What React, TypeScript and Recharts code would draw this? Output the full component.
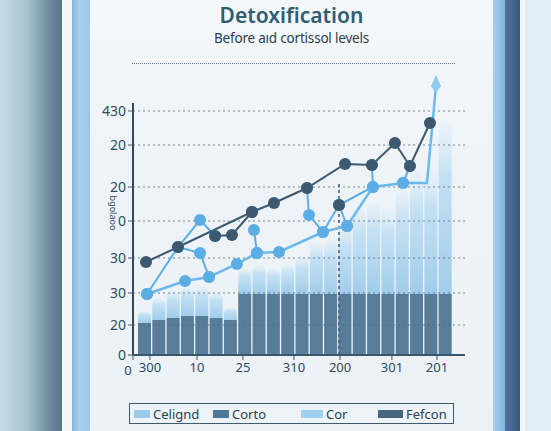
import React from 'react';
import { ComposedChart, Bar, Line, XAxis, YAxis, ReferenceLine } from 'recharts';

// bar categories and heights
const barCats = ['b1', 'b2', 'b3', 'b4', 'b5', 'b6', 'b7', 'b8', 'b9', 'b10', 'b11', 'b12', 'b13', 'b14', 'b15', 'b16', 'b17', 'b18', 'b19', 'b20', 'b21', 'b22'];
const lightTotals = [44, 57, 64, 68, 68, 63, 48, 86, 90, 87, 91, 98, 113, 115, 130, 148, 153, 147, 165, 182, 185, 232];
const darkBase = [32, 35, 37, 39, 39, 37, 35, 61, 61, 61, 61, 61, 61, 61, 61, 61, 61, 61, 61, 61, 61, 61];

// line series as [x, y] pairs, null = break
const corLine: [number, number][] = [
  [0.21, 61], [2.87, 74], [4.55, 78], [6.5, 91], [7.9, 102], [9.44, 103],
  [12.52, 123], [14.2, 129], [16.01, 168], [18.11, 172], [19.79, 172], [20.42, 269],
];
const corLinks: ([number, number] | null)[] = [
  [0.21, 61], [2.38, 108], [3.92, 135], [4.97, 119], null,
  [2.38, 108], [3.92, 102], [4.55, 78], null,
  [7.69, 125], [7.9, 102], null,
  [11.4, 167], [11.54, 140], [12.52, 123], [13.64, 150], [14.2, 129], null,
  [13.64, 150], [16.01, 168], [15.94, 190], null,
  [18.11, 172], [18.6, 189],
];
const fefLine: [number, number][] = [
  [0.14, 93], [2.38, 108], [7.55, 143], [9.09, 152], [11.4, 167], [14.06, 191],
  [15.94, 190], [17.55, 212], [18.6, 189], [20.0, 232],
];
const fefLinks: ([number, number] | null)[] = [
  [4.97, 119], [6.15, 120], [7.55, 143], null,
  [13.64, 150],
];

const xTickValues = [-0.77, 0.42, 3.71, 6.92, 10.49, 13.71, 17.34, 20.49];
const xTickLabels = ['0', '300', '10', '25', '310', '200', '301', '201'];
const yTickValues = [0, 30, 62, 97, 134, 168, 210, 244];
const yTickLabels = ['0', '20', '30', '30', '0', '20', '20', '430'];

const markerX = 13.64;
const markerTop = 173;

const legendNames = ['Celignd', 'Corto', 'Cor', 'Fefcon'];
const legendColors = ['#9ccbe9', '#4f7898', '#9fd0f0', '#46657f'];
const legendSwatchW = [16, 16, 22, 25];
const legendLeft = [134, 213, 301, 378];

const font = '"Noto Sans", "DejaVu Sans", sans-serif';
const ink = '#2e4a5e';
const dark = '#3c5970';
const blue = '#5cade4';

const rows = barCats.map((c, i) => ({ c, base: darkBase[i], rest: lightTotals[i] - darkBase[i] }));
const toPts = (arr: ([number, number] | null)[]) =>
  arr.map((p, i) => (p ? { x: p[0], y: p[1] } : { x: (arr[i - 1] as [number, number])[0], y: null }));

const XTick = (props: any) => {
  const { x, y, payload, index } = props;
  // the origin label sits a little left and lower, clear of the y "0"
  return (
    <text x={index === 0 ? x - 5 : x} y={y} dy={index === 0 ? 13 : 10} textAnchor="middle" fontSize={13} fill={ink} fontFamily={font}>
      {xTickLabels[xTickValues.indexOf(payload.value)]}
    </text>
  );
};

const corDot = (props: any) => {
  const { cx, cy, index } = props;
  if (index === corLine.length - 1) {
    return (
      <path key={`cd-${index}`} d={`M${cx},${cy - 11} L${cx + 5},${cy} L${cx},${cy + 7} L${cx - 5},${cy} Z`} fill="#8fcbed" />
    );
  }
  if (index === corLine.length - 2) return <g key={`cd-${index}`} />;
  return <circle key={`cd-${index}`} cx={cx} cy={cy} r={6} fill={blue} />;
};

export default function App() {
  return (
    <div style={{ position: 'fixed', left: 0, top: 0, width: 551, height: 431, overflow: 'hidden', fontFamily: font, background: '#eef3f8' }}>
      {/* frame */}
      <div style={{ position: 'absolute', left: 0, top: 0, width: 62, height: 431, background: 'linear-gradient(to right, #c4dce7 0%, #a7c1ce 45%, #6d8b9e 80%, #56768b 100%)' }} />
      <div style={{ position: 'absolute', left: 62, top: 0, width: 10, height: 431, background: '#f3f6f8' }} />
      <div style={{ position: 'absolute', left: 72, top: 0, width: 18, height: 431, background: 'linear-gradient(to right, #86b6dc 0%, #a8d0ef 40%, #9cc8ea 100%)' }} />
      <div style={{ position: 'absolute', left: 90, top: 0, width: 403, height: 431, background: 'linear-gradient(to bottom, #f5f8fa 0%, #eef3f8 40%, #ecf1f6 100%)' }} />
      <div style={{ position: 'absolute', left: 493, top: 0, width: 12, height: 431, background: 'linear-gradient(to right, #a5d0f0, #82b4de)' }} />
      <div style={{ position: 'absolute', left: 505, top: 0, width: 15, height: 431, background: 'linear-gradient(to right, #4d72a0, #375a80)' }} />
      <div style={{ position: 'absolute', left: 520, top: 0, width: 5, height: 431, background: '#f2f6f8' }} />
      <div style={{ position: 'absolute', left: 525, top: 0, width: 26, height: 431, background: '#e0eff5' }} />

      {/* titles */}
      <div style={{ position: 'absolute', left: 90, width: 403, top: 1, textAlign: 'center', fontSize: 21, fontWeight: 600, color: '#2f5e70' }}>
        Detoxification
      </div>
      <div style={{ position: 'absolute', left: 90, width: 403, top: 29, textAlign: 'center', fontSize: 13.5, color: '#2a3f4e', letterSpacing: -0.2 }}>
        Before aıd cortissol levels
      </div>
      <div style={{ position: 'absolute', left: 132, top: 63, width: 323, borderTop: '1px dotted #5a7890' }} />

      {/* y label */}
      <div style={{ position: 'absolute', left: 113, top: 213, transform: 'translate(-50%, -50%) rotate(90deg)', fontSize: 9, color: ink, whiteSpace: 'nowrap' }}>
        bgolaoo
      </div>

      <div style={{ position: 'absolute', left: 90, top: 70 }}>
        <ComposedChart width={400} height={315} data={rows} margin={{ top: 5, right: 25, bottom: 0, left: 0 }}>
          <defs>
            <linearGradient id="lightBar" x1="0" y1="0" x2="0" y2="1">
              <stop offset="0%" stopColor="#dcedf8" stopOpacity={0.35} />
              <stop offset="30%" stopColor="#b9dcf2" stopOpacity={0.8} />
              <stop offset="100%" stopColor="#a0cceb" stopOpacity={1} />
            </linearGradient>
          </defs>
          <XAxis
            xAxisId="n"
            dataKey="x"
            type="number"
            domain={[-0.77, 22.45]}
            allowDataOverflow
            ticks={xTickValues}
            interval={0}
            tick={<XTick />}
            tickSize={5}
            axisLine={{ stroke: '#3a566c', strokeWidth: 2 }}
            tickLine={{ stroke: '#3a566c' }}
            height={30}
          />
          <XAxis xAxisId="c" dataKey="c" type="category" hide height={0} padding={{ left: 4, right: 13 }} />
          <YAxis
            type="number"
            domain={[0, 280]}
            allowDataOverflow
            ticks={yTickValues}
            interval={0}
            tickFormatter={(v: number) => yTickLabels[yTickValues.indexOf(v)]}
            tick={{ fontSize: 14, fill: ink, fontFamily: font }}
            tickLine={{ stroke: '#3a566c' }}
            tickSize={5}
            axisLine={false}
            width={43}
          />
          <Bar xAxisId="c" dataKey="base" stackId="s" fill="#577d9b" barSize={13} isAnimationActive={false} />
          <Bar xAxisId="c" dataKey="rest" stackId="s" fill="url(#lightBar)" barSize={13} radius={[6, 6, 0, 0]} isAnimationActive={false} />
          {yTickValues.slice(1).map((v) => (
            <ReferenceLine key={`g-${v}`} xAxisId="n" y={v} stroke="#4d6a80" strokeDasharray="2 3" strokeOpacity={0.8} />
          ))}
          <ReferenceLine
            xAxisId="n"
            segment={[{ x: -0.77, y: 0 }, { x: -0.77, y: 252 }]}
            stroke="#2f4a60"
            strokeWidth={2}
          />
          <ReferenceLine
            xAxisId="n"
            segment={[{ x: markerX, y: 0 }, { x: markerX, y: markerTop }]}
            stroke="#2f5b80"
            strokeWidth={1.5}
            strokeDasharray="3 3"
          />
          <Line xAxisId="n" data={toPts(corLinks)} dataKey="y" stroke={blue} strokeWidth={2} dot={{ r: 6, fill: blue, stroke: 'none' }} legendType="none" isAnimationActive={false} />
          <Line xAxisId="n" data={toPts(corLine)} dataKey="y" stroke="#6bb9ea" strokeWidth={2.5} dot={corDot} isAnimationActive={false} />
          <Line xAxisId="n" data={toPts(fefLinks)} dataKey="y" stroke={dark} strokeWidth={2} dot={{ r: 6, fill: dark, stroke: 'none' }} legendType="none" isAnimationActive={false} />
          <Line xAxisId="n" data={toPts(fefLine)} dataKey="y" stroke={dark} strokeWidth={2} dot={{ r: 6, fill: dark, stroke: 'none' }} isAnimationActive={false} />
        </ComposedChart>
      </div>

      {/* legend */}
      <div style={{ position: 'absolute', left: 129, top: 403, width: 323, height: 19, border: '1.5px solid #3e5a70', background: '#eef3f7' }}>
        {legendNames.map((name, i) => (
          <div key={name} style={{ position: 'absolute', left: legendLeft[i] - 130, top: 1, display: 'flex', alignItems: 'center', height: 17 }}>
            <span style={{ display: 'inline-block', width: legendSwatchW[i], height: 8, background: legendColors[i], marginRight: 3 }} />
            <span style={{ fontSize: 13, color: '#2a3f4e' }}>{name}</span>
          </div>
        ))}
      </div>
    </div>
  );
}
